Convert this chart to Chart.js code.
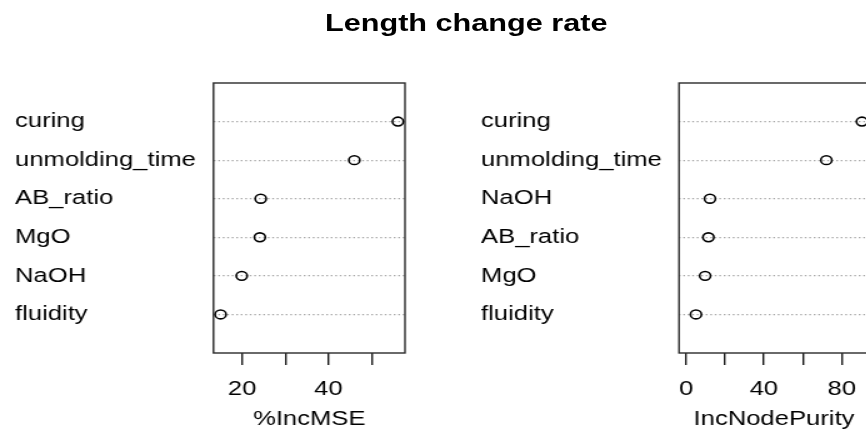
<!DOCTYPE html>
<html>
<head>
<meta charset="utf-8">
<script src="https://cdn.jsdelivr.net/npm/chart.js@4.4.0/dist/chart.umd.min.js"></script>
<style>
  html, body { margin: 0; padding: 0; background: #fff; }
  #marco { position: relative; width: 866px; height: 430px; overflow: hidden; background: #fff; }
  /* la figura original está estirada en horizontal */
  #lienzo { position: absolute; left: 0; top: 0; width: 700px; height: 430px; transform: scaleX(1.25); transform-origin: 0 0; }
  #titulo { position: absolute; left: 173px; top: 11px; width: 400px; text-align: center; font: bold 24.5px/24px "Liberation Sans", Arial, sans-serif; color: #000; }
  #graf1 { position: absolute; left: 0; top: 0; }
  #graf2 { position: absolute; left: 346px; top: 0; }
</style>
</head>
<body>
<div id="marco">
  <div id="lienzo">
    <div id="titulo">Length change rate</div>
    <canvas id="graf1" width="340" height="430"></canvas>
    <canvas id="graf2" width="360" height="430"></canvas>
  </div>
</div>
<script>
// Datos (de arriba hacia abajo, como en la figura)
const variablesMSE = ['curing', 'unmolding_time', 'AB_ratio', 'MgO', 'NaOH', 'fluidity'];
const incMSE = [56.1, 46.0, 24.3, 24.1, 19.9, 15.0];
const ticksMSE = [20, 30, 40, 50];
const etiquetasMSE = [20, 40];

const variablesPurity = ['curing', 'unmolding_time', 'NaOH', 'AB_ratio', 'MgO', 'fluidity'];
const incNodePurity = [90.4, 72.1, 12.3, 11.5, 9.8, 5.1];
const ticksPurity = [0, 20, 40, 60, 80];
const etiquetasPurity = [0, 40, 80];

const fuente = "'Liberation Sans', Arial, sans-serif";

// Recuadro alrededor del área de dibujo (como box() en R)
const recuadro = {
  id: 'recuadro',
  afterDraw(chart) {
    const { ctx, chartArea: a } = chart;
    ctx.save();
    ctx.strokeStyle = '#2b2b2b';
    ctx.lineWidth = 1.4;
    ctx.strokeRect(a.left, a.top, a.right - a.left, a.bottom - a.top);
    ctx.restore();
  }
};

function crearGrafico(id, variables, valores, xmin, ticks, etiquetas, titulo, izq, anchoEje, der) {
  const xmax = Math.max(...valores);
  const extra = (xmax - xmin) * 0.04;

  new Chart(document.getElementById(id), {
    type: 'scatter',
    data: {
      datasets: [{
        data: variables.map((v, i) => ({ x: valores[i], y: v })),
        pointStyle: 'circle',
        pointRadius: 4.4,
        pointBorderWidth: 1.6,
        pointBorderColor: '#000',
        pointBackgroundColor: 'rgba(0,0,0,0)',
        clip: false
      }]
    },
    options: {
      responsive: false,
      animation: false,
      layout: { padding: { left: izq, right: der, top: 83, bottom: 0 } },
      plugins: { legend: { display: false }, tooltip: { enabled: false } },
      scales: {
        x: {
          type: 'linear',
          min: xmin - extra,
          max: xmax + extra,
          afterBuildTicks: s => { s.ticks = ticks.map(v => ({ value: v })); },
          afterFit: s => { s.height = 77; },
          grid: { drawOnChartArea: false, drawTicks: true, tickLength: 12, color: '#1a1a1a', lineWidth: 1.4 },
          border: { display: false },
          ticks: {
            padding: 12,
            color: '#000',
            font: { family: fuente, size: 20.5 },
            maxRotation: 0,
            autoSkip: false,
            callback: v => etiquetas.includes(v) ? String(v) : ''
          },
          title: { display: true, text: titulo, color: '#000', font: { family: fuente, size: 20.5, lineHeight: 1 }, padding: 0 }
        },
        y: {
          type: 'category',
          labels: ['', ...variables, ''],
          afterFit: s => { s.width = anchoEje; },
          grid: {
            drawTicks: false,
            lineWidth: 1.2,
            color: c => (c.index === 0 || c.index === variables.length + 1) ? 'rgba(0,0,0,0)' : '#a8a8a8'
          },
          border: { display: false, dash: [1.4, 2.2] },
          ticks: { crossAlign: 'far', color: '#000', font: { family: fuente, size: 20.5 }, autoSkip: false }
        }
      }
    },
    plugins: [recuadro]
  });
}

crearGrafico('graf1', variablesMSE, incMSE, Math.min(...incMSE), ticksMSE, etiquetasMSE, '%IncMSE', 12, 158.8, 16);
crearGrafico('graf2', variablesPurity, incNodePurity, 0, ticksPurity, etiquetasPurity, 'IncNodePurity', 38.8, 158.4, 10.8);
</script>
</body>
</html>
